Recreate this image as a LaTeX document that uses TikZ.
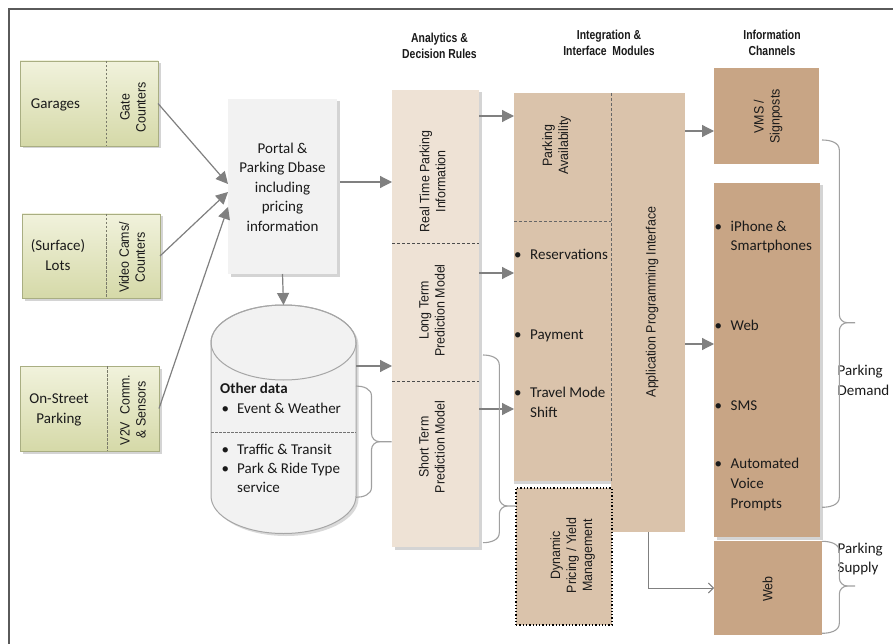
\documentclass[tikz,border=0pt]{standalone}
\usepackage{fontspec}
\setmainfont{Carlito}
\newfontfamily\arialn[FakeStretch=0.92]{Liberation Sans}
\newfontfamily\headf[FakeStretch=0.8]{Liberation Sans}
\usetikzlibrary{arrows.meta,shadows,calc}
\definecolor{framecol}{HTML}{5A5A5A}
\definecolor{greentop}{HTML}{F1F2DC}
\definecolor{greenbot}{HTML}{D5D9A8}
\definecolor{greenedge}{HTML}{A9AE82}
\definecolor{divgray}{HTML}{7A7A6A}
\definecolor{portalfill}{HTML}{F2F2F2}
\definecolor{anafill}{HTML}{EEE2D5}
\definecolor{intfill}{HTML}{DAC3AB}
\definecolor{infofill}{HTML}{C8A585}
\definecolor{arrgray}{HTML}{808080}
\definecolor{bracegray}{HTML}{A0A0A0}
\definecolor{cyledge}{HTML}{A6A6A6}
\definecolor{txt}{HTML}{1A1A1A}
\tikzset{
 box/.style={inner sep=0pt, outer sep=0pt},
 shad/.style={drop shadow={shadow xshift=2.5pt,shadow yshift=-2.5pt,opacity=0.17,fill=black}},
 greenbox/.style={box, draw=greenedge, line width=0.8pt, top color=greentop, bottom color=greenbot, shad},
 portalbox/.style={box, fill=portalfill, shad},
 anabox/.style={box, fill=anafill, shad},
 intbox/.style={box, fill=intfill},
 infobox/.style={box, fill=infofill},
 body/.style={font=\fontsize{15}{19.5}\selectfont, inner sep=0pt, text=txt},
 rot/.style={rotate=90, align=center, inner sep=0pt, font=\arialn\fontsize{13.5}{16}\selectfont, text=txt},
 head/.style={font=\headf\bfseries\fontsize{13}{16}\selectfont, inner sep=0pt, text=txt, align=center},
 arr/.style={draw=arrgray, line width=1.2pt, -{Triangle[length=12pt,width=12pt]}},
 thinarr/.style={draw=arrgray, line width=0.9pt, -{Straight Barb[length=5pt,width=10pt]}},
 brace/.style={draw=bracegray, line width=1.1pt},
 divider/.style={draw=divgray, line width=0.8pt, dash pattern=on 2.5pt off 1.5pt},
 intdiv/.style={draw=black!60, line width=0.9pt, dash pattern=on 3pt off 2pt},
}
\begin{document}
\begin{tikzpicture}[x=1pt,y=-1pt]
\useasboundingbox (0,0) rectangle (893,644);
\fill[white] (0,0) rectangle (893,644);
% frame
\draw[framecol, line width=2pt] (9,644) -- (9,9) -- (893,9);

% headers
\node[head] (h1) at (439.5,46) {Analytics \&\\Decision Rules};
\node[head] (h2) at (609,43) {Integration \&\\Interface\ \ Modules};
\node[head] (h3) at (772,43) {Information\\Channels};

% source boxes
\node[greenbox, minimum width=138pt, minimum height=85pt] (garages) at (89,103.5) {};
\node[greenbox, minimum width=138pt, minimum height=84pt] (lots) at (91,256) {};
\node[greenbox, minimum width=139pt, minimum height=85pt] (onstreet) at (89.5,408.5) {};
\draw[divider] ([xshift=86pt]garages.north west) -- ([xshift=86pt]garages.south west);
\draw[divider] ([xshift=84pt]lots.north west) -- ([xshift=84pt]lots.south west);
\draw[divider] ([xshift=87pt]onstreet.north west) -- ([xshift=87pt]onstreet.south west);
\node[body, anchor=base] (tg) at (55.5,108.3) {Garages};
\node[body, anchor=base] (tl1) at (58,250.7) {(Surface)};
\node[body, anchor=base] (tl2) at (58,270.7) {Lots};
\node[body, anchor=base] (to1) at (59,403.3) {On-Street};
\node[body, anchor=base] (to2) at (59,423.3) {Parking};
\node[rot] (rg) at (133,107.5) {Gate\\Counters};
\node[rot] (rl) at (132,257.5) {Video Cams/\\Counters};
\node[rot] (ro) at (133,410) {V2V\ \ Comm.\\\& Sensors};

% portal
\node[portalbox, minimum width=109pt, minimum height=175pt] (portal) at (282.5,186.5) {};
\node[body, align=center] (tp) at (282.5,187) {Portal \&\\Parking Dbase\\including\\pricing\\information};

% cylinder
\coordinate (cyltop) at (283.5,305);
\coordinate (cylR) at (356,366);
\fill[black, opacity=0.15] (213.5,345) -- (213.5,498.5) arc[start angle=180,end angle=360,x radius=72.5pt,y radius=37.5pt] -- (358.5,345) arc[start angle=0,end angle=180,x radius=72.5pt,y radius=37.5pt] -- cycle;
\filldraw[fill=portalfill, draw=cyledge, line width=1pt] (211,342.5) -- (211,496) arc[start angle=180,end angle=360,x radius=72.5pt,y radius=37.5pt] -- (356,342.5) arc[start angle=0,end angle=180,x radius=72.5pt,y radius=37.5pt] -- cycle;
\draw[draw=cyledge, line width=1pt] (283.5,342.5) ellipse[x radius=72.5pt,y radius=37.5pt];
\draw[divider, draw=black!55] (211,432) -- (356,432);
\node[body, anchor=base west, font=\fontsize{15}{19.5}\selectfont\bfseries] (od) at (220,393.3) {Other data};
\node[body, anchor=base west] (b1) at (221.5,413) {\textbullet};
\node[body, anchor=base west] (c1) at (237,413) {Event \& Weather};
\node[body, anchor=base west] (b2) at (221.5,454) {\textbullet};
\node[body, anchor=base west] (c2) at (237,454) {Traffic \& Transit};
\node[body, anchor=base west] (b3) at (221.5,473.7) {\textbullet};
\node[body, anchor=base west] (c3) at (237,473.7) {Park \& Ride Type};
\node[body, anchor=base west] (c4) at (237,492.7) {service};

% analytics column
\node[anabox, minimum width=87pt, minimum height=457pt] (ana) at (435.5,318.5) {};
\draw[intdiv, draw=black!70, line width=0.7pt] (392,243) -- (479,243);
\draw[intdiv, draw=black!70, line width=0.7pt] (392,381) -- (479,381);
\node[rot] (ta1) at (432.5,181.3) {Real Time Parking\\Information};
\node[rot] (ta2) at (432,310.5) {Long Term\\Prediction Model};
\node[rot] (ta3) at (431.7,447) {Short Term\\Prediction Model};

% integration
\node[intbox, minimum width=97pt, minimum height=388pt, drop shadow={shadow xshift=0pt,shadow yshift=-3pt,opacity=0.17,fill=black}] (intL) at (562.5,287) {};
\node[intbox, minimum width=74pt, minimum height=439pt] (api) at (648,312.5) {};
\node[intbox, draw=black, line width=1.3pt, dotted, minimum width=96pt, minimum height=137pt] (dyn) at (564,556.5) {};
\draw[intdiv] (611,93) -- (611,482);
\draw[intdiv, line width=0.7pt] (514,221) -- (611,221);
\node[rot] (tpa) at (556.7,145.3) {Parking\\Availability};
\node[rot] (tapi) at (652,302) {Application Programming Interface};
\node[rot] (tdyn) at (572.5,555.5) {Dynamic\\Pricing / Yield\\Management};
\node[body, anchor=base west] (ib1) at (514,259.3) {\textbullet};
\node[body, anchor=base west] (it1) at (530,259.3) {Reservations};
\node[body, anchor=base west] (ib2) at (514,339.3) {\textbullet};
\node[body, anchor=base west] (it2) at (530,339.3) {Payment};
\node[body, anchor=base west] (ib3) at (514,397.3) {\textbullet};
\node[body, anchor=base west] (it3) at (530,397.3) {Travel Mode};
\node[body, anchor=base west] (it4) at (530,417.7) {Shift};

% information channels
\node[infobox, minimum width=105pt, minimum height=96pt] (vms) at (766.5,116) {};
\node[infobox, minimum width=106pt, minimum height=354pt, shad] (big) at (767,360) {};
\node[infobox, minimum width=108pt, minimum height=94pt] (webbox) at (768,588) {};
\node[rot] (tvms) at (768,116.5) {VMS /\\Signposts};
\node[rot] (tweb) at (767.5,589) {Web};
\node[body, anchor=base west] (kb1) at (714.5,231.7) {\textbullet};
\node[body, anchor=base west] (kt1) at (730.5,231.7) {iPhone \&};
\node[body, anchor=base west] (kt2) at (730.5,250.7) {Smartphones};
\node[body, anchor=base west] (kb2) at (714.5,330.7) {\textbullet};
\node[body, anchor=base west] (kt3) at (730.5,330.7) {Web};
\node[body, anchor=base west] (kb3) at (714.5,410) {\textbullet};
\node[body, anchor=base west] (kt4) at (730.5,410) {SMS};
\node[body, anchor=base west] (kb4) at (714.5,468.3) {\textbullet};
\node[body, anchor=base west] (kt5) at (730.5,468.3) {Automated};
\node[body, anchor=base west] (kt6) at (730.5,488.3) {Voice};
\node[body, anchor=base west] (kt7) at (730.5,508.3) {Prompts};

% side labels
\node[body, anchor=base west] (pd1) at (837.5,375.5) {Parking};
\node[body, anchor=base west] (pd2) at (837.5,395) {Demand};
\node[body, anchor=base west] (ps1) at (837.5,553) {Parking};
\node[body, anchor=base west] (ps2) at (837.5,572.5) {Supply};

% arrows
\draw[arr] (garages.east) -- ([yshift=2.5pt]portal.west);
\draw[arr] (lots.east) -- ([yshift=-5.5pt]portal.west);
\draw[arr] (onstreet.east) -- ([yshift=-20.5pt]portal.west);
\coordinate (pe) at ([shift={(3pt,4.5pt)}]portal.east);
\draw[arr] (pe) -- (pe -| ana.west);
\draw[arr] (portal.south) -- (cyltop);
\draw[arr] (cylR) -- (cylR -| ana.west);
\draw[arr] (ana.east |- 0,116) -- (intL.west |- 0,116);
\draw[arr] (ana.east |- 0,273) -- (intL.west |- 0,273);
\draw[arr] (ana.east |- 0,409) -- (intL.west |- 0,409);
\draw[arr] (api.east |- 0,131) -- (vms.west |- 0,131);
\draw[arr] (api.east |- 0,344) -- (big.west |- 0,344);
\draw[thinarr] (api.south) |- (webbox.west);

% braces
\draw[brace] (356,386) to[out=0,in=90] (371.5,396) -- (371.5,433.7) to[out=-90,in=180] (379.5,441.7) -- (391.7,441.7);
\draw[brace] (379.5,441.7) to[out=180,in=90] (371.5,449.7) -- (371.5,487.3) to[out=-90,in=0] (356,497.3);
\draw[brace] (483,355) to[out=0,in=90] (499.3,365) -- (499.3,498) to[out=-90,in=180] (507.3,506) -- (516,506);
\draw[brace] (507.3,506) to[out=180,in=90] (499.3,514) -- (499.3,532.7) to[out=-90,in=0] (483,542.7);
\draw[brace] (822,140) to[out=0,in=90] (839.3,150) -- (839.3,314.7) to[out=-90,in=180] (847.3,322.7) -- (855,322.7);
\draw[brace] (847.3,322.7) to[out=180,in=90] (839.3,330.7) -- (839.3,497.3) to[out=-90,in=0] (822,507.3);
\draw[brace] (822,541.3) to[out=0,in=90] (839.3,551.3) -- (839.3,578) to[out=-90,in=180] (847.3,586) -- (855,586);
\draw[brace] (847.3,586) to[out=180,in=90] (839.3,594) -- (839.3,623.3) to[out=-90,in=0] (822,633.3);
\end{tikzpicture}
\end{document}
